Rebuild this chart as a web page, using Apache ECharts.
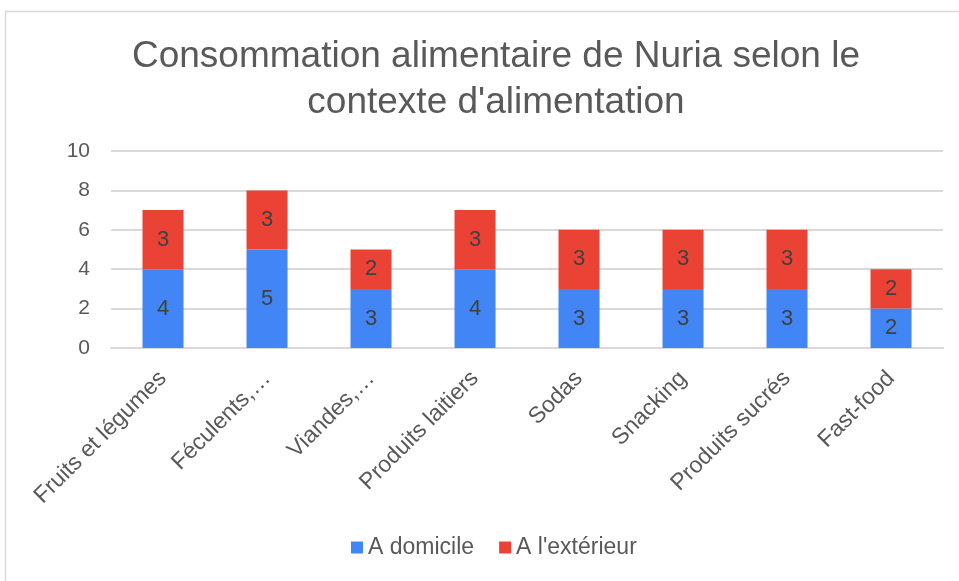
<!DOCTYPE html>
<html>
<head>
<meta charset="utf-8">
<script src="https://cdn.jsdelivr.net/npm/echarts@6/dist/echarts.min.js"></script>
<style>
  html, body { margin: 0; padding: 0; background: #fff; }
  #chart { width: 959px; height: 581px; }
</style>
</head>
<body>
<div id="chart"></div>
<script>
// Food categories and servings by eating context
const categories = ['Fruits et légumes', 'Féculents,…', 'Viandes,…', 'Produits laitiers', 'Sodas', 'Snacking', 'Produits sucrés', 'Fast-food'];
const atHome = [4, 5, 3, 4, 3, 3, 3, 2];
const outside = [3, 3, 2, 3, 3, 3, 3, 2];
const yTicks = { min: 0, max: 10, interval: 2 };

const font = 'Liberation Sans, Arial, sans-serif';
const textGrey = '#595959';

const chart = echarts.init(document.getElementById('chart'), null, { renderer: 'canvas' });
chart.setOption({
  animation: false,
  backgroundColor: '#ffffff',
  graphic: [{
    type: 'rect',
    shape: { x: 5.5, y: 11.5, width: 1000, height: 1000 },
    style: { fill: 'none', stroke: '#d9d9d9', lineWidth: 1.5 },
    silent: true
  }],
  title: {
    text: 'Consommation alimentaire de Nuria selon le\ncontexte d\'alimentation',
    left: 491,
    textAlign: 'center',
    top: 29,
    textStyle: { fontFamily: font, fontSize: 37, fontWeight: 'normal', color: textGrey, lineHeight: 46 }
  },
  legend: {
    bottom: 17,
    left: 346,
    itemWidth: 12,
    itemHeight: 12,
    itemGap: 25,
    icon: 'rect',
    textStyle: { fontFamily: font, fontSize: 23, color: textGrey },
    data: ['A domicile', 'A l\'extérieur']
  },
  grid: { left: 111, right: 16, top: 151, bottom: 233 },
  xAxis: {
    type: 'category',
    data: categories,
    axisLine: { show: true, lineStyle: { color: '#d9d9d9', width: 2 } },
    axisTick: { show: false },
    axisLabel: { rotate: 45, fontFamily: font, fontSize: 23, color: textGrey, margin: 27, interval: 0 }
  },
  yAxis: {
    type: 'value',
    min: yTicks.min,
    max: yTicks.max,
    interval: yTicks.interval,
    axisLine: { show: false },
    axisTick: { show: false },
    axisLabel: { fontFamily: font, fontSize: 21, color: textGrey, margin: 21 },
    splitLine: { lineStyle: { color: '#d9d9d9', width: 2 } }
  },
  series: [
    {
      name: 'A domicile',
      type: 'bar',
      stack: 'total',
      data: atHome,
      barWidth: 41,
      itemStyle: { color: '#4285F4' },
      label: { show: true, position: 'inside', fontFamily: font, fontSize: 22, color: '#404040' }
    },
    {
      name: 'A l\'extérieur',
      type: 'bar',
      stack: 'total',
      data: outside,
      barWidth: 41,
      itemStyle: { color: '#EA4335' },
      label: { show: true, position: 'inside', fontFamily: font, fontSize: 22, color: '#404040' }
    }
  ]
});
</script>
</body>
</html>
